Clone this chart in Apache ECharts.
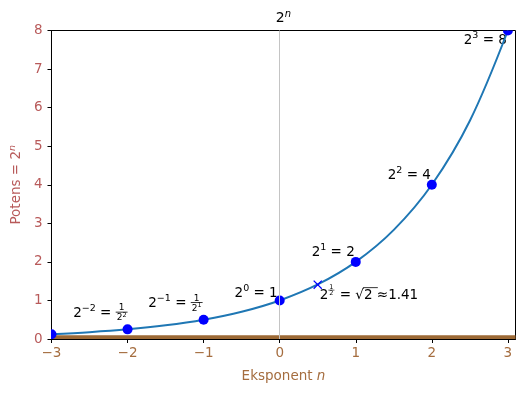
<!DOCTYPE html>
<html><head><meta charset="utf-8">
<script src="https://cdn.jsdelivr.net/npm/echarts@6/dist/echarts.min.js"></script>
<style>html,body{margin:0;padding:0;background:#fff}#c{width:525px;height:396px}</style>
</head><body><div id="c"></div>
<script>
// ---- data ----
const xTicks = [-3, -2, -1, 0, 1, 2, 3];
const yTicks = [0, 1, 2, 3, 4, 5, 6, 7, 8];
const curveX = [-3, -2.5, -2, -1.5, -1, -0.5, 0, 0.5, 1, 1.5, 2, 2.5, 3];
const curveY = [0.125, 0.177, 0.25, 0.354, 0.5, 0.707, 1, 1.414, 2, 2.83, 4, 5.66, 8];
const pointN = [-3, -2, -1, 0, 1, 2, 3];
const pointV = [0.125, 0.25, 0.5, 1, 2, 4, 8];
const halfN = [0.5];
const halfV = [1.41];
const bandY = [0, 0.1];

const FONT = '"DejaVu Sans", sans-serif';
const chart = echarts.init(document.getElementById('c'), null, {renderer: 'canvas'});
const minus = v => String(v).replace('-', '\u2212');

chart.setOption({
  animation: false,
  backgroundColor: '#fff',
  grid: {left: 50, right: 9.5, top: 30.5, bottom: 57, show: true, borderColor: '#000', borderWidth: 1, backgroundColor: 'transparent'},
  xAxis: {
    type: 'value', min: -3, max: 3.1,
    axisLine: {onZero: false, lineStyle: {color: '#000', width: 1}},
    axisTick: {customValues: xTicks, length: 4, lineStyle: {color: '#000'}},
    axisLabel: {customValues: xTicks, formatter: minus, color: '#a56d3f', fontSize: 13.5, fontFamily: FONT, margin: 7},
    splitLine: {show: false},
    name: 'Eksponent {i|n}', nameLocation: 'middle', nameGap: 30,
    nameTextStyle: {color: '#a56d3f', fontSize: 13.5, fontFamily: FONT,
      rich: {i: {fontStyle: 'italic', color: '#a56d3f', fontSize: 13.5, fontFamily: FONT}}}
  },
  yAxis: {
    type: 'value', min: 0, max: 8, interval: 1,
    axisLine: {show: true, onZero: false, lineStyle: {color: '#000', width: 1}},
    axisTick: {show: true, length: 4, lineStyle: {color: '#000'}},
    axisLabel: {color: '#b85a5a', fontSize: 13.5, fontFamily: FONT, margin: 9},
    splitLine: {show: false},
    name: 'Potens = 2{s|n}', nameLocation: 'middle', nameGap: 27,
    nameTextStyle: {color: '#b85a5a', fontSize: 13.5, fontFamily: FONT,
      rich: {s: {fontStyle: 'italic', color: '#b85a5a', fontSize: 9.5, fontFamily: FONT, verticalAlign: 'top', padding: [0, 0, 6, 0]}}}
  },
  series: [
    {
      type: 'line', data: curveX.map((x, i) => [x, curveY[i]]), smooth: 0.35, showSymbol: false,
      lineStyle: {color: '#1f77b4', width: 2}, z: 3, clip: true,
      markLine: {silent: true, symbol: 'none', label: {show: false},
        lineStyle: {color: '#c4c4c4', width: 1, type: 'solid'}, data: [{xAxis: 0}]},
      markArea: {silent: true, itemStyle: {color: '#9c6935', opacity: 1},
        data: [[{yAxis: bandY[0]}, {yAxis: bandY[1]}]]}
    },
    {
      type: 'custom', data: pointN.map((n, i) => [n, pointV[i]]), clip: true, z: 4,
      renderItem: (params, api) => {
        const p = api.coord([api.value(0), api.value(1)]);
        return {type: 'circle', shape: {cx: p[0], cy: p[1], r: 5}, style: {fill: '#0000ff'}};
      }
    },
    {
      type: 'scatter', data: halfN.map((n, i) => [n, halfV[i]]), symbolSize: 9,
      symbol: 'path://M0,1 L1,0 L5,4 L9,0 L10,1 L6,5 L10,9 L9,10 L5,6 L1,10 L0,9 L4,5 Z',
      itemStyle: {color: '#0000ff', opacity: 1}, z: 4
    }
  ]
});

// ---- math-text layout helper ----
const mctx = document.createElement('canvas').getContext('2d');
function tw(t, s, it) { mctx.font = (it ? 'italic ' : '') + s + 'px ' + FONT; return mctx.measureText(t).width; }
const S = 13.5, SS = 9.5, FS = 9, FSS = 6.5;
function build(runs, color) {
  const els = []; let x = 0;
  runs.forEach(r => {
    const dy = r.dy || 0;
    if (r.frac) {
      const num = build(r.frac[0], color), den = build(r.frac[1], color);
      const fw = Math.max(num.w, den.w) + 2;
      const nd = r.nd != null ? r.nd : -5.5, dd = r.dd != null ? r.dd : 4.5, bd = r.bd != null ? r.bd : -1.2;
      num.els.forEach(e => { e.x += x + (fw - num.w) / 2; e.y += dy + nd; els.push(e); });
      den.els.forEach(e => { e.x += x + (fw - den.w) / 2; e.y += dy + dd; els.push(e); });
      els.push({type: 'line', shape: {x1: x, y1: dy + bd, x2: x + fw, y2: dy + bd}, style: {stroke: color, lineWidth: r.lw || 0.8}});
      x += fw + 1;
    } else {
      const s = r.s || S;
      const w = tw(r.t, s, r.it);
      els.push({type: 'text', x: x, y: dy, style: {text: r.t, font: (r.it ? 'italic ' : '') + s + 'px ' + FONT, fill: color, verticalAlign: 'middle', align: 'left'}});
      if (r.over) els.push({type: 'line', shape: {x1: x - 1, y1: dy - 8, x2: x + w + 1, y2: dy - 8}, style: {stroke: color, lineWidth: 0.8}});
      x += w;
    }
  });
  return {els, w: x};
}

const annotations = [
  {i: 1, align: 'right', ox: 1, oy: -16, runs: [{t: '2'}, {t: '\u22122', s: SS, dy: -5}, {t: ' = '}, {frac: [[{t: '1', s: FS}], [{t: '2', s: FS}, {t: '2', s: FSS, dy: -3}]]}]},
  {i: 2, align: 'right', ox: 0, oy: -16, runs: [{t: '2'}, {t: '\u22121', s: SS, dy: -5}, {t: ' = '}, {frac: [[{t: '1', s: FS}], [{t: '2', s: FS}, {t: '1', s: FSS, dy: -3}]]}]},
  {i: 3, align: 'right', ox: -2, oy: -7, runs: [{t: '2'}, {t: '0', s: SS, dy: -5}, {t: ' = 1'}]},
  {i: 4, align: 'right', ox: -1, oy: -9, runs: [{t: '2'}, {t: '1', s: SS, dy: -5}, {t: ' = 2'}]},
  {i: 5, align: 'right', ox: -1, oy: -9, runs: [{t: '2'}, {t: '2', s: SS, dy: -5}, {t: ' = 4'}]},
  {i: 6, align: 'right', ox: -1, oy: 10, runs: [{t: '2'}, {t: '3', s: SS, dy: -5}, {t: ' = 8'}]}
];

const graphics = [];
function place(runs, color, px, py, align, rot) {
  const b = build(runs, color);
  const x0 = align === 'right' ? -b.w : align === 'center' ? -b.w / 2 : 0;
  b.els.forEach(e => { if (e.type === 'text') e.x += x0; else { e.shape.x1 += x0; e.shape.x2 += x0; } });
  graphics.push({type: 'group', x: px, y: py, rotation: rot || 0, children: b.els, z: 10});
}
annotations.forEach(a => {
  const p = chart.convertToPixel({gridIndex: 0}, [pointN[a.i], pointV[a.i]]);
  place(a.runs, '#000', p[0] + a.ox, p[1] + a.oy, a.align);
});
// sqrt(2) annotation
{
  const p = chart.convertToPixel({gridIndex: 0}, [halfN[0], halfV[0]]);
  place([{t: '2'}, {frac: [[{t: '1', s: 6.5}], [{t: '2', s: 6.5}]], dy: -5, nd: -3.5, dd: 3, bd: -0.5, lw: 0.6},
         {t: ' = \u221A'}, {t: '2 ', over: true}, {t: '\u22481.41'}], '#000', p[0] + 2, p[1] + 11, 'left');
}
// title
{
  const l = chart.convertToPixel({gridIndex: 0}, [-3, 8]);
  const r = chart.convertToPixel({gridIndex: 0}, [3.1, 8]);
  place([{t: '2', s: 14}, {t: 'n', s: 10, it: true, dy: -4}], '#000', (l[0] + r[0]) / 2, 18, 'center');
}
chart.setOption({graphic: graphics});
</script></body></html>
